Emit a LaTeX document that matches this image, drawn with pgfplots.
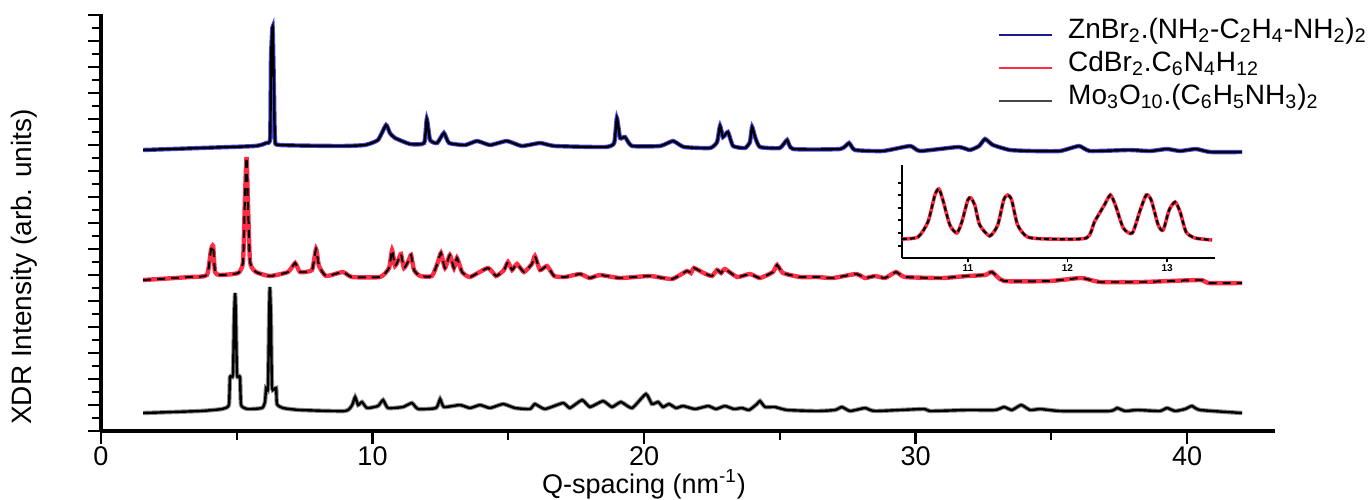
\documentclass[border=0pt]{standalone}
\usepackage{fontspec}
\setmainfont{Liberation Sans}
\usepackage{pgfplots}
\usepackage{pgfplotstable}
\pgfplotsset{compat=1.18}

\definecolor{znblue}{HTML}{1A1A8C}
\definecolor{znpeak}{HTML}{4B4BE6}
\definecolor{cdred}{HTML}{FF2D45}
\definecolor{mogrey}{HTML}{454545}

% y values are heights above the x axis, in the reference's pixel units
\pgfplotstableread{
x y
1.55 281
3.65 283
5.67 285
6.08 288
6.23 293
6.26 371
6.32 404
6.37 341
6.41 291
6.59 286
8.80 285
9.72 286
10.20 291
10.50 306
10.64 298
10.83 293
11.38 287
11.90 288
12.00 312
12.12 291
12.38 288
12.63 298
12.82 288
13.41 286
13.85 290
14.33 286
14.95 290
15.50 285
16.17 288
16.72 285
18.56 284
18.90 288
19.00 313
19.12 293
19.30 294
19.56 285
20.59 285
21.07 290
21.47 284
22.43 283
22.69 289
22.80 305
22.91 294
23.09 299
23.28 285
23.72 283
23.90 289
23.98 304
24.09 294
24.27 284
25.00 283
25.27 291
25.49 282
27.22 282
27.55 288
27.77 281
28.80 280
29.80 285
30.17 280
31.57 284
32.00 281
32.34 285
32.56 292
32.85 286
33.48 281
34.33 280
35.32 280
36.02 285
36.43 280
37.86 281
38.64 280
39.26 282
39.74 280
40.33 282
40.85 279
42.03 279
}\znbr

\pgfplotstableread{
x y
1.55 151
3.28 154
3.90 156
4.05 181
4.13 185
4.20 159
4.38 156
5.05 158
5.23 169
5.30 231
5.36 274
5.41 231
5.49 169
5.71 159
6.22 155
6.89 159
7.15 168
7.33 159
7.77 161
7.92 182
8.03 165
8.29 155
8.91 159
9.24 154
10.28 154
10.61 163
10.72 181
10.83 165
10.98 173
11.05 177
11.16 163
11.34 171
11.42 176
11.53 161
11.75 155
12.19 155
12.41 169
12.52 178
12.67 163
12.85 176
13.00 163
13.11 173
13.30 159
13.59 154
14.25 163
14.55 155
14.84 161
14.99 169
15.14 161
15.32 167
15.58 159
15.87 167
15.98 175
16.17 161
16.43 165
16.69 155
17.09 154
17.64 157
18.00 153
18.38 156
19.12 153
20.22 155
21.03 152
21.58 160
21.73 158
21.84 163
22.20 158
22.50 155
22.69 161
22.84 158
22.98 162
23.43 154
23.90 157
24.27 153
24.75 159
24.90 166
25.12 158
25.75 154
26.37 154
26.96 153
27.81 157
28.14 153
28.51 155
28.88 153
29.28 159
29.61 154
30.98 153
31.90 155
32.56 156
32.82 159
33.26 150
34.95 150
36.10 153
36.80 149
38.34 149
40.48 151
40.77 148
42.03 148
}\cdbr

\pgfplotstableread{
x y
1.55 18
3.65 20
4.46 22
4.71 26
4.75 54
4.86 56
4.90 111
4.94 138
4.97 111
5.01 56
5.12 54
5.16 26
5.41 22
5.93 23
6.04 29
6.08 43
6.15 43
6.19 111
6.22 144
6.26 111
6.30 43
6.45 43
6.48 27
6.70 23
7.33 21
8.99 20
9.25 26
9.36 34
9.47 26
9.61 29
9.80 23
10.20 25
10.39 31
10.57 23
11.12 24
11.45 28
11.68 22
12.34 23
12.49 32
12.63 24
13.22 26
13.59 23
13.96 26
14.33 23
14.81 27
15.25 23
15.80 22
15.98 27
16.35 22
17.02 28
17.27 23
17.72 31
18.01 24
18.49 30
18.82 24
19.15 29
19.56 23
20.07 37
20.29 27
20.52 29
20.70 24
20.92 27
21.18 23
21.44 25
21.88 22
22.36 25
22.65 22
22.98 25
23.31 22
23.61 23
23.87 21
24.16 27
24.27 30
24.46 24
24.82 24
25.27 21
26.37 20
27.03 21
27.29 24
27.59 20
28.14 23
28.51 20
30.28 22
30.53 20
31.90 21
32.93 21
33.26 24
33.55 21
33.89 26
34.22 21
34.59 22
35.32 20
37.16 20
37.42 23
37.72 20
38.16 21
39.00 20
39.26 23
39.56 20
39.93 22
40.18 25
40.48 21
42.03 18
}\moo

% close-up of the CdBr2 pattern between 10.3 and 13.5
\pgfplotstableread{
x y
10.34 19
10.50 21
10.60 36
10.67 63
10.71 69
10.75 58
10.82 33
10.89 25
10.94 36
11.00 58
11.03 60
11.07 53
11.12 33
11.22 22
11.30 33
11.36 58
11.40 63
11.44 58
11.50 33
11.60 21
11.82 19
12.19 20
12.27 36
12.37 53
12.43 63
12.48 53
12.56 30
12.65 25
12.73 48
12.79 63
12.84 58
12.91 33
12.96 28
13.02 48
13.08 56
13.13 46
13.19 26
13.28 20
13.45 18
}\inset

\begin{document}
\begin{tikzpicture}[font=\fontsize{14}{16}\selectfont]
\useasboundingbox (0,0) rectangle (685pt,-249.5pt);

\begin{axis}[
  scale only axis, width=587pt, height=208.5pt,
  at={(50.5pt,-215.5pt)}, anchor=south west,
  xmin=0, xmax=43.24, ymin=0, ymax=417,
  axis lines=left,
  axis line style={line width=1.6pt, -},
  tick align=outside,
  xtick={0,10,20,30,40}, minor xtick={5,15,25,35},
  ytick={0,26,...,416}, minor ytick={13,39,...,403},
  yticklabels={},
  major tick length=6.5pt, minor tick length=4.5pt,
  tick style={line width=1.2pt, black},
  /pgf/number format/assume math mode=true,
  xticklabel style={font=\fontsize{13.5}{15}\selectfont, inner sep=1pt},
  xlabel={Q-spacing (nm\textsuperscript{-1})},
  ylabel={XDR Intensity (arb. units)},
  xlabel style={at={(axis description cs:0.4625,-0.128)}, anchor=center,
    font=\fontsize{13.5}{15}\selectfont, inner sep=0pt},
  ylabel style={at={(axis description cs:-0.0656,0.393)}, anchor=center, rotate=0},
  legend style={at={(axis description cs:0.7632,0.990)}, anchor=north west,
    draw=none, fill=none, inner sep=0pt, column sep=7pt,
    nodes={inner sep=0.5pt, text height=9.5pt, text depth=6pt},
    font=\fontsize{14}{16}\selectfont},
  legend cell align=left,
  legend image code/.code={
    \draw[#1, line width=1.4pt] (0pt,0pt) -- (26.5pt,0pt);},
]
  \addlegendimage{znblue}
  \addlegendentry{ZnBr\textsubscript{2}.(NH\textsubscript{2}-C\textsubscript{2}H\textsubscript{4}-NH\textsubscript{2})\textsubscript{2}}
  \addlegendimage{cdred}
  \addlegendentry{CdBr\textsubscript{2}.C\textsubscript{6}N\textsubscript{4}H\textsubscript{12}}
  \addlegendimage{mogrey}
  \addlegendentry{Mo\textsubscript{3}O\textsubscript{10}.(C\textsubscript{6}H\textsubscript{5}NH\textsubscript{3})\textsubscript{2}}

  \addplot[znpeak, line width=2.2pt, smooth, tension=0.3, forget plot] table {\znbr};
  \addplot[black, line width=1.2pt, smooth, tension=0.3, forget plot] table {\znbr};
  \addplot[cdred, line width=2.2pt, smooth, tension=0.3, forget plot] table {\cdbr};
  \addplot[black, line width=1pt, smooth, tension=0.3,
    dash pattern=on 4pt off 3pt, forget plot] table {\cdbr};
  \addplot[mogrey!60, line width=2.2pt, smooth, tension=0.3, forget plot] table {\moo};
  \addplot[black, line width=1.2pt, smooth, tension=0.3, forget plot] table {\moo};
\end{axis}

\begin{axis}[
  scale only axis, width=156.5pt, height=46.5pt,
  at={(451pt,-129pt)}, anchor=south west,
  xmin=10.34, xmax=13.48, ymin=0, ymax=93,
  axis lines=left,
  axis line style={line width=0.9pt, -},
  tick align=outside,
  xtick={11,12,13}, ytick={12,25,38,50,63,75}, yticklabels={},
  major tick length=2pt,
  tick style={line width=0.8pt, black},
  /pgf/number format/assume math mode=true,
  xticklabel style={font=\fontsize{5}{6}\bfseries, inner sep=1pt},
]
  \addplot[cdred, line width=1.8pt, smooth, tension=0.4] table {\inset};
  \addplot[black, line width=1.1pt, smooth, tension=0.4,
    dash pattern=on 2.5pt off 1.5pt] table {\inset};
\end{axis}
\end{tikzpicture}
\end{document}
